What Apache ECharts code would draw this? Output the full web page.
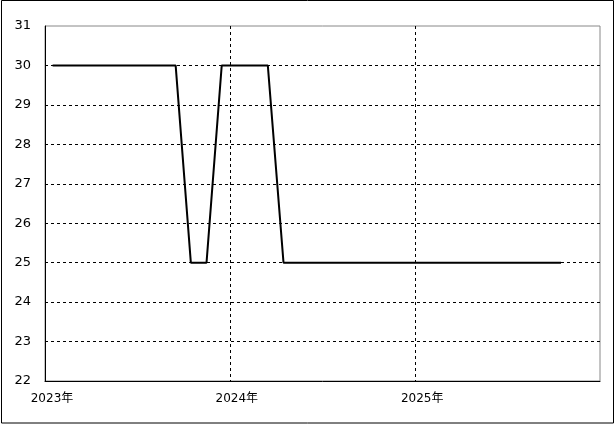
<!DOCTYPE html>
<html>
<head>
<meta charset="utf-8">
<script src="https://cdn.jsdelivr.net/npm/echarts@6/dist/echarts.min.js"></script>
<style>
html,body{margin:0;padding:0;background:#fff;}
#main{width:615px;height:424px;}
</style>
</head>
<body>
<div id="main"></div>
<script>
var dates = [
  '2023-01-16','2023-02-16','2023-03-16','2023-04-16','2023-05-16','2023-06-16',
  '2023-07-16','2023-08-16','2023-09-16','2023-10-16','2023-11-16','2023-12-16',
  '2024-01-16','2024-02-16','2024-03-16','2024-04-16','2024-05-16','2024-06-16',
  '2024-07-16','2024-08-16','2024-09-16','2024-10-16','2024-11-16','2024-12-16',
  '2025-01-16','2025-02-16','2025-03-16','2025-04-16','2025-05-16','2025-06-16',
  '2025-07-16','2025-08-16','2025-09-16','2025-10-16'
];
var values = [
  30,30,30,30,30,30,30,30,30,25,25,30,
  30,30,30,25,25,25,25,25,25,25,25,25,
  25,25,25,25,25,25,25,25,25,25
];
var xMin = '2023-01-01';
var xMax = '2026-01-01';
var yMin = 22, yMax = 31, yStep = 1;

var chart = echarts.init(document.getElementById('main'), null, {renderer: 'canvas'});
var seriesData = dates.map(function (d, i) { return [d, values[i]]; });
chart.setOption({
  animation: false,
  backgroundColor: '#fff',
  graphic: [{
    type: 'rect',
    silent: true,
    shape: {x: 1.5, y: 0.5, width: 612, height: 422.5},
    style: {fill: 'none', stroke: '#000', lineWidth: 1}
  }],
  grid: {
    left: 45, right: 15, top: 26, bottom: 43,
    show: true, borderColor: '#888', borderWidth: 1, backgroundColor: 'transparent'
  },
  xAxis: {
    type: 'time',
    min: xMin, max: xMax,
    minInterval: 365 * 24 * 3600 * 1000,
    splitNumber: 3,
    axisLine: {show: true, lineStyle: {color: '#000', width: 1}},
    axisTick: {show: false},
    axisLabel: {
      color: '#000', fontSize: 12, fontFamily: 'DejaVu Sans, Noto Sans CJK JP',
      margin: 12, showMaxLabel: false, showMinLabel: true,
      align: 'center', padding: [0, 0, 0, 14],
      formatter: function (v) { return new Date(v).getFullYear() + '年'; }
    },
    splitLine: {show: true, showMinLine: false, showMaxLine: false,
      lineStyle: {color: '#000', type: [3, 3], width: 1}}
  },
  yAxis: {
    type: 'value',
    min: yMin, max: yMax, interval: yStep,
    axisLine: {show: true, lineStyle: {color: '#000', width: 1}},
    axisTick: {show: false},
    axisLabel: {color: '#000', fontSize: 13, fontFamily: 'DejaVu Sans', margin: 14},
    splitLine: {show: true, showMinLine: false, showMaxLine: false,
      lineStyle: {color: '#000', type: [3, 3], width: 1}}
  },
  series: [{
    type: 'line',
    data: seriesData,
    showSymbol: false,
    symbol: 'none',
    lineStyle: {color: '#000', width: 2},
    z: 5
  }]
});
</script>
</body>
</html>
